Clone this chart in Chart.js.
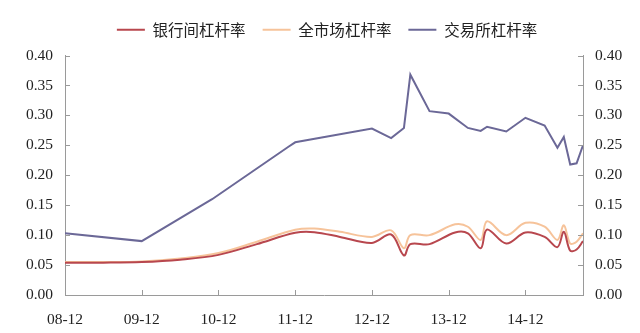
<!DOCTYPE html>
<html>
<head>
<meta charset="utf-8">
<script src="https://cdn.jsdelivr.net/npm/chart.js@4"></script>
<style>
  html, body { margin: 0; padding: 0; background: #fff; }
  #wrap { width: 640px; height: 333px; }
</style>
</head>
<body>
<div id="wrap"><canvas id="leverChart" width="640" height="333"></canvas></div>
<script>
// months counted from 2008-12
const xTickMonths = [0, 12, 24, 36, 48, 60, 72];
const xTickLabels = ['08-12', '09-12', '10-12', '11-12', '12-12', '13-12', '14-12'];
const yTicks = [0, 0.05, 0.1, 0.15, 0.2, 0.25, 0.3, 0.35, 0.4];

// 银行间 / 全市场 share the same dates
const marketMonths = [0, 6, 12, 18, 24, 30, 36, 39, 43, 48, 51, 53, 54, 57, 61, 63, 65, 66, 69, 72, 75, 77, 78, 79, 80, 81];
const interbank = [0.054, 0.054, 0.055, 0.059, 0.067, 0.085, 0.104, 0.105, 0.097, 0.087, 0.101, 0.066, 0.085, 0.085,
  0.1045, 0.103, 0.078, 0.1095, 0.086, 0.1045, 0.097, 0.080, 0.1055, 0.074, 0.076, 0.090];
const wholeMarket = [0.055, 0.055, 0.056, 0.061, 0.070, 0.089, 0.109, 0.111, 0.1055, 0.097, 0.108, 0.078, 0.100, 0.100,
  0.118, 0.114, 0.092, 0.123, 0.100, 0.1205, 0.114, 0.092, 0.1165, 0.086, 0.089, 0.103];

// 交易所
const exchangeMonths = [0, 12, 23, 35, 36, 48, 51, 53, 54, 57, 60, 63, 65, 66, 69, 72, 75, 77, 78, 79, 80, 81];
const exchange = [0.103, 0.090, 0.160, 0.248, 0.255, 0.278, 0.262, 0.279, 0.368, 0.307, 0.303, 0.279, 0.274, 0.281,
  0.273, 0.296, 0.283, 0.246, 0.264, 0.218, 0.220, 0.250];

const seriesNames = ['银行间杠杆率', '全市场杠杆率', '交易所杠杆率'];

function toPoints(xs, ys) {
  return xs.map((x, i) => ({ x: x, y: ys[i] }));
}

// inward tick marks on every axis
const innerTicks = {
  id: 'innerTicks',
  afterDatasetsDraw(chart) {
    const ctx = chart.ctx;
    const area = chart.chartArea;
    ctx.save();
    ctx.strokeStyle = '#9a9a9a';
    ctx.lineWidth = 1;
    ctx.beginPath();
    xTickMonths.forEach(m => {
      const px = Math.round(chart.scales.x.getPixelForValue(m)) + 0.5;
      ctx.moveTo(px, area.bottom);
      ctx.lineTo(px, area.bottom - 5);
    });
    yTicks.forEach(v => {
      const py = Math.round(chart.scales.y.getPixelForValue(v)) + 0.5;
      ctx.moveTo(area.left, py);
      ctx.lineTo(area.left + 5, py);
      ctx.moveTo(area.right, py);
      ctx.lineTo(area.right - 5, py);
    });
    ctx.stroke();
    ctx.restore();
  }
};

// a bit more room under the legend, and nudge it right a little
const legendGap = {
  id: 'legendGap',
  beforeInit(chart) {
    const fit = chart.legend.fit;
    chart.legend.fit = function () {
      fit.bind(chart.legend)();
      this.height += 8;
    };
  },
  afterLayout(chart) {
    chart.legend.left += 3;
    chart.legend.right += 3;
  }
};

const tickFont = { family: "'Liberation Serif', 'Times New Roman', serif", size: 15.5 };

const yAxis = (pos) => ({
  type: 'linear',
  position: pos,
  min: 0,
  max: 0.4,
  afterBuildTicks: (scale) => { scale.ticks = yTicks.map(v => ({ value: v })); },
  afterFit: (scale) => { scale.width = 42; },
  ticks: {
    font: tickFont,
    color: '#222',
    padding: 12,
    callback: (v) => v.toFixed(2)
  },
  grid: { display: false, drawTicks: false },
  border: { display: true, color: '#9a9a9a', width: 1 }
});

new Chart(document.getElementById('leverChart'), {
  type: 'line',
  data: {
    datasets: [{
      label: seriesNames[0],
      data: toPoints(marketMonths, interbank),
      borderColor: '#b8474e',
      backgroundColor: '#b8474e',
      borderWidth: 2,
      pointRadius: 0,
      tension: 0.35
    }, {
      label: seriesNames[1],
      data: toPoints(marketMonths, wholeMarket),
      borderColor: '#f6c39a',
      backgroundColor: '#f6c39a',
      borderWidth: 2,
      pointRadius: 0,
      tension: 0.35
    }, {
      label: seriesNames[2],
      data: toPoints(exchangeMonths, exchange),
      borderColor: '#6b6897',
      backgroundColor: '#6b6897',
      borderWidth: 2,
      pointRadius: 0,
      tension: 0
    }]
  },
  options: {
    responsive: false,
    animation: false,
    layout: { padding: { left: 23, right: 15, top: 5, bottom: 0 } },
    plugins: {
      legend: {
        position: 'top',
        labels: {
          usePointStyle: true,
          pointStyle: 'line',
          pointStyleWidth: 28,
          padding: 17,
          color: '#222',
          font: { family: "'Noto Sans CJK SC', sans-serif", size: 15.5 }
        }
      },
      tooltip: { enabled: false }
    },
    scales: {
      x: {
        type: 'linear',
        min: 0,
        max: 81,
        afterBuildTicks: (scale) => { scale.ticks = xTickMonths.map(v => ({ value: v })); },
        afterFit: (scale) => { scale.height = 38; },
        ticks: {
          font: tickFont,
          color: '#222',
          padding: 16,
          callback: (v) => xTickLabels[xTickMonths.indexOf(v)]
        },
        grid: { display: false, drawTicks: false },
        border: { display: true, color: '#9a9a9a', width: 1 }
      },
      y: yAxis('left'),
      y2: yAxis('right')
    }
  },
  plugins: [innerTicks, legendGap]
});
</script>
</body>
</html>
